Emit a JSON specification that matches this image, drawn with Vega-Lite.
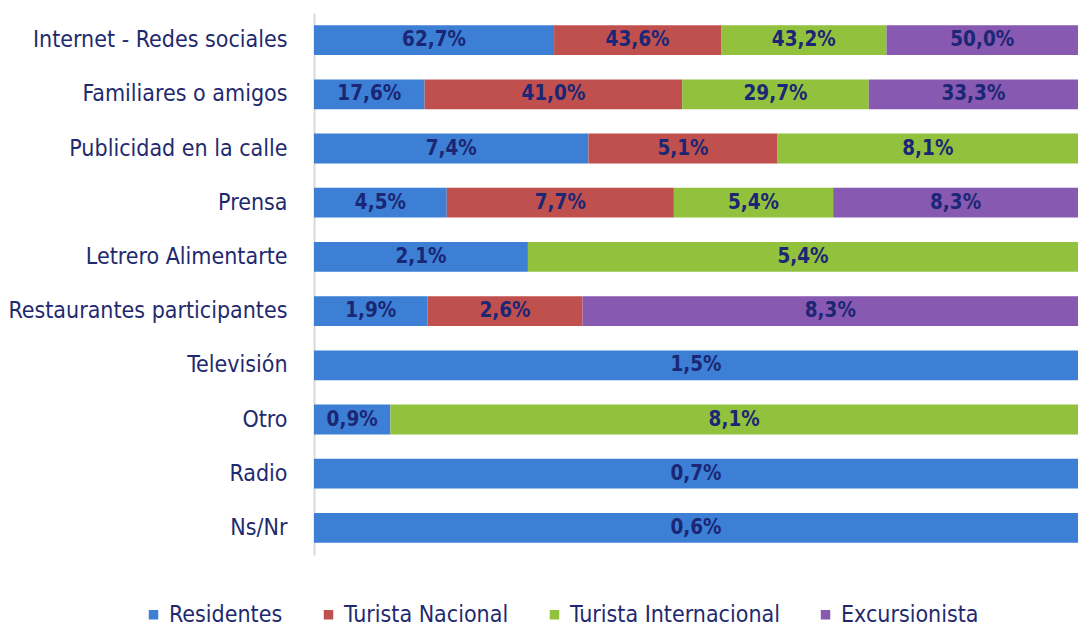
{
  "$schema": "https://vega.github.io/schema/vega-lite/v6.json",
  "width": 764,
  "height": 542,
  "autosize": "none",
  "padding": {"left": 314, "top": 13, "right": 0, "bottom": 71},
  "background": "white",
  "config": {"view": {"stroke": null}, "font": "DejaVu Sans Condensed, Liberation Sans, sans-serif"},
  "data": {"values": [
    {"medio": "Internet - Redes sociales", "grupo": "Residentes", "valor": 62.7},
    {"medio": "Internet - Redes sociales", "grupo": "Turista Nacional", "valor": 43.6},
    {"medio": "Internet - Redes sociales", "grupo": "Turista Internacional", "valor": 43.2},
    {"medio": "Internet - Redes sociales", "grupo": "Excursionista", "valor": 50.0},
    {"medio": "Familiares o amigos", "grupo": "Residentes", "valor": 17.6},
    {"medio": "Familiares o amigos", "grupo": "Turista Nacional", "valor": 41.0},
    {"medio": "Familiares o amigos", "grupo": "Turista Internacional", "valor": 29.7},
    {"medio": "Familiares o amigos", "grupo": "Excursionista", "valor": 33.3},
    {"medio": "Publicidad en la calle", "grupo": "Residentes", "valor": 7.4},
    {"medio": "Publicidad en la calle", "grupo": "Turista Nacional", "valor": 5.1},
    {"medio": "Publicidad en la calle", "grupo": "Turista Internacional", "valor": 8.1},
    {"medio": "Prensa", "grupo": "Residentes", "valor": 4.5},
    {"medio": "Prensa", "grupo": "Turista Nacional", "valor": 7.7},
    {"medio": "Prensa", "grupo": "Turista Internacional", "valor": 5.4},
    {"medio": "Prensa", "grupo": "Excursionista", "valor": 8.3},
    {"medio": "Letrero Alimentarte", "grupo": "Residentes", "valor": 2.1},
    {"medio": "Letrero Alimentarte", "grupo": "Turista Internacional", "valor": 5.4},
    {"medio": "Restaurantes participantes", "grupo": "Residentes", "valor": 1.9},
    {"medio": "Restaurantes participantes", "grupo": "Turista Nacional", "valor": 2.6},
    {"medio": "Restaurantes participantes", "grupo": "Excursionista", "valor": 8.3},
    {"medio": "Televisión", "grupo": "Residentes", "valor": 1.5},
    {"medio": "Otro", "grupo": "Residentes", "valor": 0.9},
    {"medio": "Otro", "grupo": "Turista Internacional", "valor": 8.1},
    {"medio": "Radio", "grupo": "Residentes", "valor": 0.7},
    {"medio": "Ns/Nr", "grupo": "Residentes", "valor": 0.6}
  ]},
  "transform": [
    {"calculate": "indexof(['Residentes','Turista Nacional','Turista Internacional','Excursionista'], datum.grupo)", "as": "orden"},
    {"stack": "valor", "groupby": ["medio"], "offset": "normalize", "sort": [{"field": "orden", "order": "ascending"}], "as": ["v0", "v1"]},
    {"calculate": "(datum.v0 + datum.v1) / 2", "as": "vmid"},
    {"calculate": "replace(format(datum.valor, '.1f'), '.', ',') + '%'", "as": "etiqueta"}
  ],
  "encoding": {
    "y": {
      "field": "medio", "type": "nominal",
      "sort": ["Internet - Redes sociales", "Familiares o amigos", "Publicidad en la calle", "Prensa", "Letrero Alimentarte", "Restaurantes participantes", "Televisión", "Otro", "Radio", "Ns/Nr"],
      "scale": {"paddingInner": 0.45, "paddingOuter": 0.225},
      "axis": {"title": null, "domain": true, "domainColor": "#d9d9d9", "domainWidth": 2, "ticks": false, "labelFontSize": 23, "labelColor": "#1F2A6E", "labelPadding": 27, "labelLimit": 0}
    }
  },
  "layer": [
    {
      "mark": {"type": "bar"},
      "encoding": {
        "x": {"field": "v0", "type": "quantitative", "scale": {"domain": [0, 1], "nice": false}, "axis": null},
        "x2": {"field": "v1"},
        "color": {
          "field": "grupo", "type": "nominal",
          "scale": {"domain": ["Residentes", "Turista Nacional", "Turista Internacional", "Excursionista"], "range": ["#3C7FD4", "#C0504D", "#92C13E", "#8759B0"]},
          "legend": {"title": null, "orient": "none", "direction": "horizontal", "legendX": -172, "legendY": 590, "symbolType": "square", "symbolSize": 90, "symbolStrokeWidth": 0, "labelFontSize": 23, "labelColor": "#1F2A6E", "labelLimit": 0, "columnPadding": 34, "labelOffset": 4}
        }
      }
    },
    {
      "mark": {"type": "text", "fontSize": 20.5, "fontWeight": "bold", "color": "#1B2675", "baseline": "middle"},
      "encoding": {
        "x": {"field": "vmid", "type": "quantitative"},
        "text": {"field": "etiqueta"}
      }
    }
  ]
}
